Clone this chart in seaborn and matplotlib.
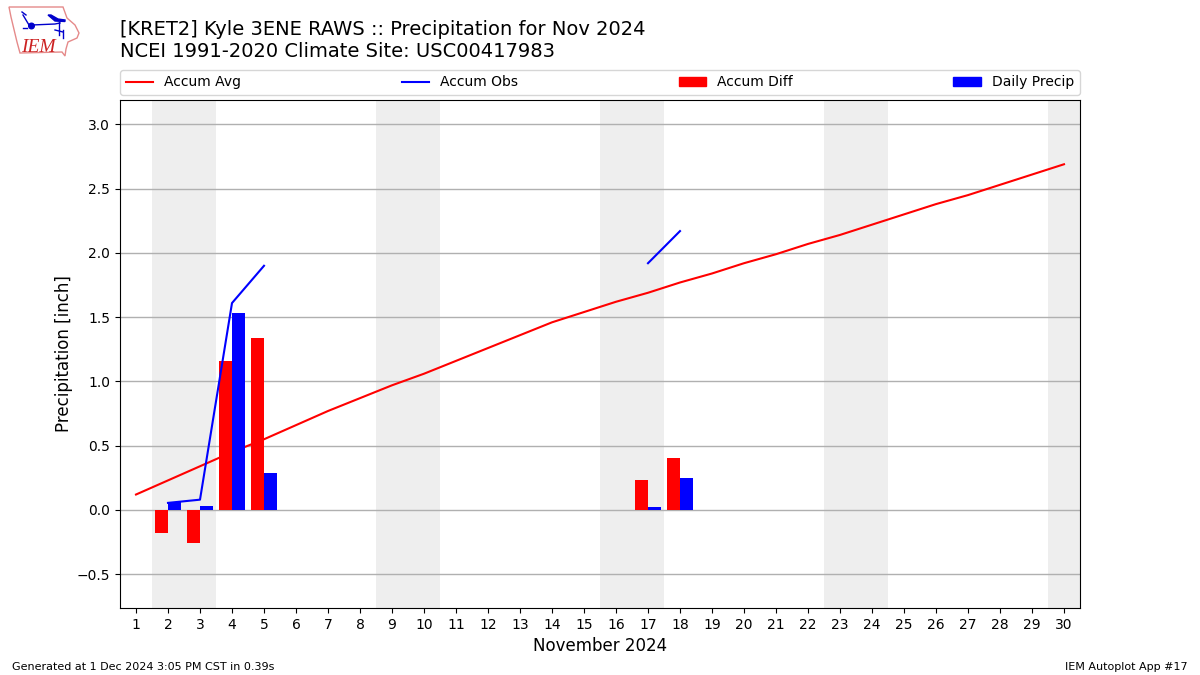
# Precipitation summary for Kyle 3ENE RAWS, Nov 2024
import pandas as pd
import numpy as np
import matplotlib.pyplot as plt
from matplotlib.lines import Line2D
from matplotlib.patches import Patch, Polygon, Circle
import seaborn as sns

days = list(range(1, 31))
accum_avg = [0.12, 0.23, 0.34, 0.45, 0.55, 0.66, 0.77, 0.87, 0.97, 1.06,
             1.16, 1.26, 1.36, 1.46, 1.54, 1.62, 1.69, 1.77, 1.84, 1.92,
             1.99, 2.07, 2.14, 2.22, 2.30, 2.38, 2.45, 2.53, 2.61, 2.69]

# Observed accumulation only exists in two runs of days
obs_days_a = [2, 3, 4, 5]
obs_vals_a = [0.055, 0.08, 1.61, 1.90]
obs_days_b = [17, 18]
obs_vals_b = [1.92, 2.17]

bar_days = [2, 3, 4, 5, 17, 18]
accum_diff = [-0.18, -0.26, 1.16, 1.34, 0.23, 0.405]
daily_precip = [0.06, 0.03, 1.53, 0.29, 0.02, 0.25]

weekends = [(1.5, 3.5), (8.5, 10.5), (15.5, 17.5), (22.5, 24.5), (29.5, 30.5)]
y_ticks = [-0.5, 0.0, 0.5, 1.0, 1.5, 2.0, 2.5, 3.0]

bars = pd.DataFrame({
    'day': bar_days * 2,
    'value': accum_diff + daily_precip,
    'series': ['Accum Diff'] * 6 + ['Daily Precip'] * 6,
})

fig = plt.figure(figsize=(12, 6.75), dpi=100)
ax = fig.add_axes([0.1, 1 - 608 / 675, 0.8, 508 / 675])

for start, end in weekends:
    ax.axvspan(start, end, color='#eeeeee', lw=0, zorder=0)

sns.lineplot(x=days, y=accum_avg, color='red', lw=1.5, ax=ax, zorder=1)
sns.barplot(data=bars, x='day', y='value', hue='series', native_scale=True,
            hue_order=['Accum Diff', 'Daily Precip'],
            palette={'Accum Diff': 'red', 'Daily Precip': 'blue'},
            saturation=1, errorbar=None, width=0.8, gap=0, linewidth=0,
            legend=False, ax=ax, zorder=1.5)
sns.lineplot(x=obs_days_a, y=obs_vals_a, color='blue', lw=1.5, ax=ax, zorder=3)
sns.lineplot(x=obs_days_b, y=obs_vals_b, color='blue', lw=1.5, ax=ax, zorder=3)

ax.set_xlim(0.5, 30.5)
ax.set_ylim(-0.763, 3.19)
ax.set_xticks(days)
ax.set_xticklabels(days)
ax.set_yticks(y_ticks)
ax.set_axisbelow(True)
ax.yaxis.grid(True, color='#b0b0b0', lw=1)
ax.xaxis.grid(False)
ax.set_xlabel('November 2024', fontsize=12)
ax.set_ylabel('Precipitation [inch]', fontsize=12, labelpad=2.5)

handles = [Line2D([], [], color='red', lw=1.5), Line2D([], [], color='blue', lw=1.5),
           Patch(color='red'), Patch(color='blue')]
ax.legend(handles, ['Accum Avg', 'Accum Obs', 'Accum Diff', 'Daily Precip'],
          loc='lower left', bbox_to_anchor=(0, 1.01, 1, 0.05), mode='expand',
          ncol=4, borderaxespad=0, fontsize=10)

fig.text(0.1, 1 - 61 / 675, '[KRET2] Kyle 3ENE RAWS :: Precipitation for Nov 2024\n'
         'NCEI 1991-2020 Climate Site: USC00417983', fontsize=14, ha='left', va='bottom')
fig.text(12 / 1200, 1 - 667 / 675, 'Generated at 1 Dec 2024 3:05 PM CST in 0.39s',
         fontsize=8, ha='left', va='center')
fig.text(1188 / 1200, 1 - 667 / 675, 'IEM Autoplot App #17', fontsize=8, ha='right', va='center')

# IEM logo, in pixel coordinates
logo = fig.add_axes([0, 1 - 65 / 675, 100 / 1200, 65 / 675])
logo.set_xlim(0, 100)
logo.set_ylim(65, 0)
logo.axis('off')
outline = [(9, 7), (63, 7), (67, 18), (75, 25), (79, 33), (77, 38), (68, 42), (66, 49),
           (65, 56), (62, 52), (20, 53), (17, 42), (11, 17)]
logo.add_patch(Polygon(outline, closed=True, fill=False, ec='#e58a8a', lw=1))
logo.add_patch(Circle((31.5, 26), 2.8, color='#0000cc'))
logo.add_patch(Polygon([(48, 15), (51, 15), (58, 19), (65, 20), (65, 21.5), (55, 21)], color='#0000cc'))
blue_paths = [[(32, 25), (55, 24), (60, 23)], [(59, 22), (59, 35)], [(23, 15), (29, 25)],
              [(22, 12), (26, 15)], [(55, 30), (63, 32)], [(63, 30), (63, 38)],
              [(23, 28), (27, 28)]]
for path in blue_paths:
    xs, ys = zip(*path)
    logo.plot(xs, ys, color='#0000cc', lw=1)
logo.text(21, 52, 'IEM', family='Liberation Serif', style='italic', fontsize=14,
          color='#cc2222', ha='left', va='baseline')

fig.savefig('out.png', dpi=100)
